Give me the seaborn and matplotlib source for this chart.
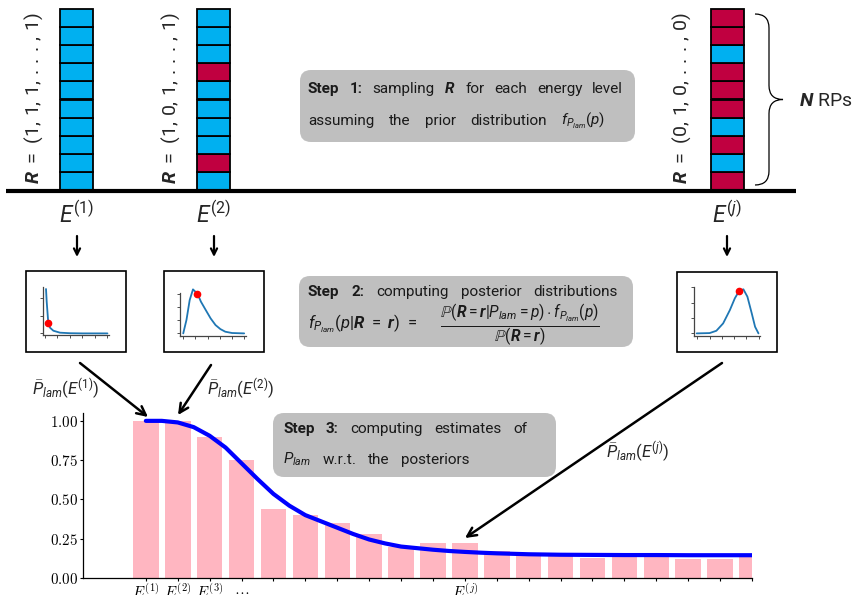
import matplotlib
matplotlib.use('Agg')
import numpy as np
import pandas as pd
import matplotlib.pyplot as plt
import seaborn as sns
from matplotlib.patches import Rectangle, FancyBboxPatch, FancyArrowPatch, PathPatch
from matplotlib.path import Path

# ---- data ----
# sampled R vectors (bottom cell first), 1 = blue, 0 = red
R_first = [1, 1, 1, 1, 1, 1, 1, 1, 1, 1]
R_second = [1, 0, 1, 1, 1, 1, 0, 1, 1, 1]
R_last = [0, 1, 0, 1, 0, 0, 0, 1, 0, 0]

levels = list(range(20))
p_lam_bars = [1.00, 1.00, 0.90, 0.75, 0.44, 0.40, 0.35, 0.28, 0.20, 0.22,
              0.22, 0.17, 0.15, 0.14, 0.13, 0.14, 0.14, 0.12, 0.12, 0.14]
level_labels = ['$E^{(1)}$', '$E^{(2)}$', '$E^{(3)}$', r'$\ldots$', '', '', '', '', '', '',
                '$E^{(j)}$', '', '', '', '', '', '', '', '', '']

curve_x = [0, 0.5, 1, 1.5, 2, 2.5, 3, 3.5, 4, 4.5, 5, 5.5, 6, 6.5, 7, 7.5, 8, 8.5,
           9, 9.5, 10, 10.5, 11, 11.5, 12, 13, 14, 15, 16, 17, 18, 19]
curve_y = [1.00, 1.00, 0.99, 0.96, 0.905, 0.83, 0.73, 0.63, 0.535, 0.46, 0.40, 0.36,
           0.32, 0.28, 0.245, 0.22, 0.20, 0.19, 0.18, 0.172, 0.166, 0.161, 0.157,
           0.154, 0.151, 0.148, 0.147, 0.146, 0.146, 0.145, 0.145, 0.145]

# posterior sketches
post1_x = [0.016, 0.027, 0.043, 0.053, 0.08, 0.134, 0.24, 0.4, 0.6, 0.8, 1.0]
post1_y = [2.49, 1.78, 1.03, 0.56, 0.32, 0.15, 0.04, 0.01, 0.0, 0.0, 0.0]
post1_dot = (0.053, 0.56)
post2_x = [0.0, 0.053, 0.106, 0.16, 0.234, 0.29, 0.37, 0.45, 0.53, 0.61, 0.69, 0.8, 1.0]
post2_y = [0.0, 1.03, 2.56, 3.38, 3.05, 2.44, 1.79, 1.15, 0.64, 0.33, 0.13, 0.03, 0.0]
post2_dot = (0.234, 3.05)
post3_x = [-0.01, 0.2, 0.31, 0.42, 0.53, 0.61, 0.68, 0.75, 0.815, 0.886, 0.94, 0.995]
post3_y = [0.0, 0.02, 0.17, 0.65, 1.52, 2.28, 2.76, 2.87, 2.39, 1.30, 0.43, 0.0]
post3_dot = (0.68, 2.76)

BLUE_CELL = '#00B0F0'
RED_CELL = '#C00040'
PINK = '#FFB6C1'
BOX_GREY = '#BFBFBF'

sns.set_style('ticks')
plt.rcParams['font.family'] = ['Roboto', 'DejaVu Sans']
plt.rcParams['mathtext.fontset'] = 'custom'
plt.rcParams['mathtext.rm'] = 'Roboto'
plt.rcParams['mathtext.it'] = 'Roboto:italic'
plt.rcParams['mathtext.bf'] = 'Roboto:bold'
plt.rcParams['mathtext.bfit'] = 'Roboto:italic:bold'

W, H = 859, 595
fig = plt.figure(figsize=(W / 100, H / 100), dpi=100)


def px_axes(left, top, right, bottom):
    return fig.add_axes([left / W, 1 - bottom / H, (right - left) / W, (bottom - top) / H])


# ---- step 3 bar chart ----
ax = px_axes(83, 413, 752, 578)
df = pd.DataFrame({'level': levels, 'p': p_lam_bars})
sns.barplot(data=df, x='level', y='p', native_scale=True, color=PINK, saturation=1,
            width=0.8, linewidth=0, errorbar=None, ax=ax)
sns.lineplot(x=curve_x, y=curve_y, color='blue', lw=3, ax=ax, sort=False)
ax.set_xlim(-1.97, 19)
ax.set_ylim(0, 1.05)
ax.set_xticks(levels)
ax.set_xticklabels(level_labels, math_fontfamily='cm', fontsize=10.8)
ax.set_yticks([0, 0.25, 0.5, 0.75, 1.0])
ax.set_yticklabels(['$%.2f$' % v for v in [0, 0.25, 0.5, 0.75, 1.0]],
                   math_fontfamily='cm', fontsize=10.8)
ax.set_xlabel('')
ax.set_ylabel('')
ax.tick_params(direction='out', length=2.5, width=0.8, pad=1.2, colors='black')
for s in ['left', 'bottom']:
    ax.spines[s].set_color('black')
    ax.spines[s].set_linewidth(0.9)
sns.despine(ax=ax)

# ---- overlay in pixel coordinates ----
ov = fig.add_axes([0, 0, 1, 1])
ov.set_xlim(0, W)
ov.set_ylim(H, 0)
ov.axis('off')

# baseline
ov.plot([6, 796], [191, 191], color='black', lw=3, solid_capstyle='butt')

# columns of RPs
cell_h = 181 / 10
for x0, vec, lab_x in [(60, R_first, 34), (197, R_second, 171), (711, R_last, 682)]:
    for i, v in enumerate(vec):
        yb = 190 - i * cell_h
        ov.add_patch(Rectangle((x0, yb - cell_h), 32.5, cell_h,
                               fc=BLUE_CELL if v == 1 else RED_CELL, ec='black', lw=1.3))
    lab = (r'$\mathbfit{R}\ =\ (%d,\,%d,\,%d,\,.\,.\,.\,,\,%d)$'
           % (vec[0], vec[1], vec[2], vec[-1]))
    ov.text(lab_x, 98, lab, rotation=90, ha='center', va='center', fontsize=14)

# curly brace
bx, by0, by1, bw = 755, 14, 185, 28
bm = (by0 + by1) / 2
hook = 14
verts = [(bx, by0), (bx + bw / 2, by0), (bx + bw / 2, by0 + hook),
         (bx + bw / 2, bm - hook), (bx + bw / 2, bm), (bx + bw, bm),
         (bx + bw / 2, bm), (bx + bw / 2, bm + hook),
         (bx + bw / 2, by1 - hook), (bx + bw / 2, by1), (bx, by1)]
codes = [Path.MOVETO, Path.CURVE3, Path.CURVE3, Path.LINETO, Path.CURVE3, Path.CURVE3,
         Path.CURVE3, Path.CURVE3, Path.LINETO, Path.CURVE3, Path.CURVE3]
ov.add_patch(PathPatch(Path(verts, codes), fc='none', ec='black', lw=0.9))
ov.text(799, 101, r'$\mathbfit{N}$ RPs', ha='left', va='center', fontsize=14)

# energy labels and small arrows
for x, e in [(77, '1'), (214, '2'), (727, 'j')]:
    ov.text(x, 214, r'$E^{(%s)}$' % e, ha='center', va='center', fontsize=16.5)
    ov.add_patch(FancyArrowPatch((x, 236), (x, 257), arrowstyle='->', mutation_scale=11,
                                 lw=1.6, color='black', shrinkA=0, shrinkB=0))

# text boxes
renderer = fig.canvas.get_renderer()


def justify(words, x0, x1, y, size=11):
    texts = []
    for w in words:
        s, weight = w if isinstance(w, tuple) else (w, 'normal')
        texts.append(ov.text(x0, y, s, ha='left', va='baseline', fontsize=size,
                             fontweight=weight, color='#1a1a1a'))
    widths = [t.get_window_extent(renderer).width for t in texts]
    gap = (x1 - x0 - sum(widths)) / max(len(texts) - 1, 1)
    x = x0
    for t, wd in zip(texts, widths):
        t.set_x(x)
        x += wd + gap


for (x0, y0, x1, y1) in [(300, 70, 635, 142), (299, 276, 633, 347), (273, 413, 556, 477)]:
    ov.add_patch(FancyBboxPatch((x0, y0), x1 - x0, y1 - y0,
                                boxstyle='round,pad=0,rounding_size=11',
                                fc=BOX_GREY, ec='none'))

justify([('Step', 'bold'), ('1:', 'bold'), 'sampling', r'$\mathbfit{R}$', 'for', 'each',
         'energy', 'level'], 308, 623, 93)
justify(['assuming', 'the', 'prior', 'distribution', r'$f_{P_{lam}}(p)$'], 308, 605, 125)
justify([('Step', 'bold'), ('2:', 'bold'), 'computing', 'posterior', 'distributions'],
        308, 618, 296)
ov.text(308, 328, r'$f_{P_{lam}}(p|\mathbfit{R}\ =\ \mathbfit{r})\ =$',
        ha='left', va='baseline', fontsize=12, color='#1a1a1a')
ov.text(440, 325,
        r'$\frac{\mathbb{P}(\mathbfit{R}=\mathbfit{r}|P_{lam}=p)\cdot f_{P_{lam}}(p)}'
        r'{\mathbb{P}(\mathbfit{R}=\mathbfit{r})}$',
        ha='left', va='center', fontsize=16, color='#1a1a1a')
justify([('Step', 'bold'), ('3:', 'bold'), 'computing', 'estimates', 'of'], 283, 527, 433)
justify([r'$P_{lam}$', 'w.r.t.', 'the', 'posteriors'], 283, 470, 464)

# posterior inset frames
for (x0, y0, x1, y1) in [(26, 271, 126, 352), (164, 271, 264, 352), (677, 272, 777, 352)]:
    ov.add_patch(Rectangle((x0, y0), x1 - x0, y1 - y0, fc='white', ec='black', lw=1.2))

# big arrows
for (xa, ya, xb, yb) in [(80, 363, 148, 417), (211, 365, 178, 415), (722, 363, 465, 538)]:
    ov.add_patch(FancyArrowPatch((xa, ya), (xb, yb), arrowstyle='->', mutation_scale=16,
                                 lw=1.8, color='black', shrinkA=0, shrinkB=0))

ov.text(66, 389, r'$\bar{P}_{lam}(E^{(1)})$', ha='center', va='center', fontsize=12)
ov.text(241, 389, r'$\bar{P}_{lam}(E^{(2)})$', ha='center', va='center', fontsize=12)
ov.text(638, 452, r'$\bar{P}_{lam}(E^{(j)})$', ha='center', va='center', fontsize=12)

# posterior sketches
for box, xs, ys, dot, xlim, ylim, yt in [
        ((42.7, 286.7, 109.3, 335), post1_x, post1_y, post1_dot, (-0.037, 1.03), (-0.09, 2.62), [0, 1, 2]),
        ((180, 293.3, 246, 336), post2_x, post2_y, post2_dot, (-0.053, 1.03), (-0.2, 3.08), [0, 1, 2, 3]),
        ((694, 286.7, 760, 336), post3_x, post3_y, post3_dot, (-0.054, 1.02), (-0.17, 3.04), [0, 1, 2, 3])]:
    ia = px_axes(*box)
    ia.set_facecolor('none')
    sns.lineplot(x=xs, y=ys, color='#1f77b4', lw=1.3, ax=ia, sort=False)
    ia.plot([dot[0]], [dot[1]], 'o', color='red', ms=4.5, zorder=5, clip_on=False)
    ia.set_xlim(*xlim)
    ia.set_ylim(*ylim)
    ia.set_xticks([0, 0.2, 0.4, 0.6, 0.8, 1.0])
    ia.set_yticks(yt)
    ia.set_xticklabels([])
    ia.set_yticklabels([])
    ia.tick_params(length=2, width=0.6, colors='#333333')
    for s in ['left', 'bottom']:
        ia.spines[s].set_color('#444444')
        ia.spines[s].set_linewidth(0.9)
    sns.despine(ax=ia)
    for ln in ia.lines:
        ln.set_clip_on(False)

fig.savefig('out.png', dpi=100)
